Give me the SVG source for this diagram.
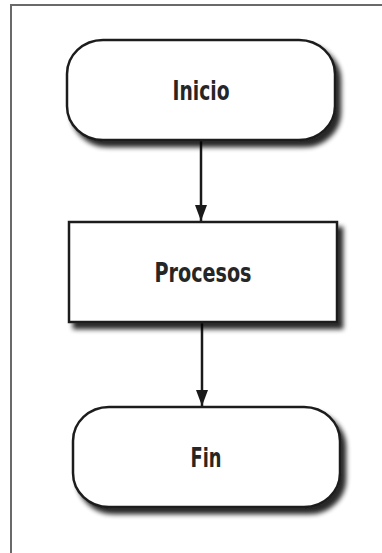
<svg xmlns="http://www.w3.org/2000/svg" width="382" height="553" viewBox="0 0 382 553">
  <style>
    .shape { fill: #ffffff; stroke: #1e1e1e; stroke-width: 2.5; }
    .label { font-family: "DejaVu Sans Condensed", "Liberation Sans", sans-serif; font-weight: bold; fill: #262626; text-anchor: middle; }
    .link { stroke: #1a1a1a; stroke-width: 2.5; fill: none; }
  </style>
  <defs>
    <filter id="shadow" x="-10%" y="-20%" width="130%" height="150%">
      <feGaussianBlur in="SourceAlpha" stdDeviation="2.5"/>
      <feOffset dx="5" dy="6" result="blur"/>
      <feComponentTransfer><feFuncA type="linear" slope="0.85"/></feComponentTransfer>
      <feMerge><feMergeNode/><feMergeNode in="SourceGraphic"/></feMerge>
    </filter>
    <!-- arrowhead drawn along +x so orient="auto" points it down the line -->
    <marker id="arrow" markerWidth="16" markerHeight="12" refX="16" refY="6" orient="auto" markerUnits="userSpaceOnUse" viewBox="0 0 16 12">
      <path d="M0,0 L16,6 L0,12 Z" fill="#1a1a1a"/>
    </marker>
  </defs>

  <rect width="382" height="553" fill="#ffffff"/>
  <!-- page frame: top and left rules -->
  <path d="M11,553 L11,5 L382,5" fill="none" stroke="#6a6a6a" stroke-width="2"/>

  <g id="connectors">
    <line class="link" x1="201" y1="140" x2="201" y2="221" marker-end="url(#arrow)"/>
    <line class="link" x1="202" y1="323" x2="202" y2="406" marker-end="url(#arrow)"/>
  </g>

  <g id="inicio">
    <rect class="shape" x="67" y="40" width="268" height="100" rx="36" ry="34" filter="url(#shadow)"/>
    <text class="label" x="201" y="100" font-size="27" textLength="57" lengthAdjust="spacingAndGlyphs">Inicio</text>
  </g>

  <g id="procesos">
    <rect class="shape" x="69" y="222" width="268" height="100" filter="url(#shadow)"/>
    <text class="label" x="203" y="282" font-size="27" textLength="97" lengthAdjust="spacingAndGlyphs">Procesos</text>
  </g>

  <g id="fin">
    <rect class="shape" x="73" y="407" width="267" height="100" rx="36" ry="34" filter="url(#shadow)"/>
    <text class="label" x="206" y="467" font-size="27" textLength="31" lengthAdjust="spacingAndGlyphs">Fin</text>
  </g>
</svg>
